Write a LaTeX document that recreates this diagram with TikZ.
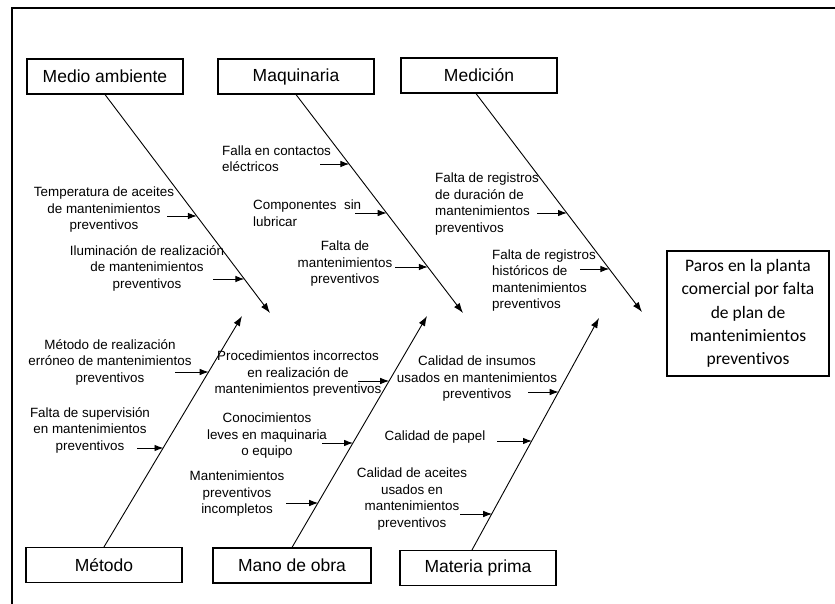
\documentclass[tikz,border=0pt]{standalone}
\usepackage{fontspec}
\setmainfont{Liberation Sans}
\newfontfamily\effectfont[Ligatures={NoCommon,NoContextual}]{Carlito}
\usetikzlibrary{arrows.meta}
\begin{document}
\begin{tikzpicture}[x=1pt,y=-1pt,
  catbox/.style={draw, line width=1.1pt, minimum width=156pt, minimum height=35pt,
    inner sep=0pt, font=\fontsize{17.5}{21}\selectfont},
  cause/.style={align=center, inner sep=0pt, font=\fontsize{13.4}{16.5}\selectfont},
  causeL/.style={cause, align=left, anchor=west},
  bone/.style={line width=0.9pt, -{Latex[length=10pt,width=7pt]}},
  feed/.style={line width=0.9pt, -{Latex[length=9pt,width=6.5pt]}}]
% canvas and frame
\useasboundingbox (0,0) rectangle (835,604);
\draw[line width=1.2pt] (12,604) -- (12,8) -- (835,8);

% category boxes
\node[catbox] (medio) at (105,76.5) {Medio ambiente};
\node[catbox] (maq)   at (296,76.5) {Maquinaria};
\node[catbox] (med)   at (479,75.5) {Medición};
\node[catbox] (met)   at (104,565) {Método};
\node[catbox, minimum width=158pt] (mano) at (292,565.5) {Mano de obra};
\node[catbox] (mat)   at (478,568) {Materia prima};

% effect box
\node[draw, line width=1.1pt, minimum width=162pt, minimum height=125pt, inner sep=0pt,
  align=center, font=\effectfont\fontsize{17.5}{23.3}\selectfont] (efecto) at (748,313.5)
  {Paros en la planta\\comercial por falta\\de plan de\\mantenimientos\\preventivos};

% bone tips
\coordinate (tMedio) at (270,313);
\coordinate (tMaq)   at (463,313);
\coordinate (tMed)   at (642,312);
\coordinate (tMet)   at (242,316);
\coordinate (tMano)  at (427,316);
\coordinate (tMat)   at (599,318);

\draw[bone] (medio.south) -- (tMedio);
\draw[bone] (maq.south) -- (tMaq);
\draw[bone] ([xshift=-3pt]med.south) -- (tMed);
\draw[bone] (met.north) -- (tMet);
\draw[bone] (mano.north) -- (tMano);
\draw[bone] ([xshift=-6pt]mat.north) -- (tMat);

% causes: Medio ambiente
\node[cause] (c1) at (104,210) {Temperatura de aceites\\de mantenimientos\\preventivos};
\node[cause] (c2) at (147,268) {Iluminación de realización\\de mantenimientos\\preventivos};
% causes: Maquinaria
\node[causeL] (c3) at (222,158.5) {Falla en contactos\\eléctricos};
\node[causeL] (c4) at (253,213) {Componentes\ \ sin\\lubricar};
\node[cause] (c5) at (345,264) {Falta de\\mantenimientos\\preventivos};
% causes: Medición
\node[causeL] (c6) at (435,204) {Falta de registros\\de duración de\\mantenimientos\\preventivos};
\node[causeL] (c7) at (492,280.5) {Falta de registros\\históricos de\\mantenimientos\\preventivos};
% causes: Método
\node[cause] (c8) at (110,362) {Método de realización\\erróneo de mantenimientos\\preventivos};
\node[cause] (c9) at (90,430) {Falta de supervisión\\en mantenimientos\\preventivos};
% causes: Mano de obra
\node[cause] (c10) at (298,374) {Procedimientos incorrectos\\en realización de\\mantenimientos preventivos};
\node[cause] (c11) at (267,436) {Conocimientos\\leves en maquinaria\\o equipo};
\node[cause] (c12) at (237,494) {Mantenimientos\\preventivos\\incompletos};
% causes: Materia prima
\node[cause] (c13) at (477,379) {Calidad de insumos\\usados en mantenimientos\\preventivos};
\node[cause] (c14) at (435,437) {Calidad de papel};
\node[cause] (c15) at (412,499) {Calidad de aceites\\usados en\\mantenimientos\\preventivos};

% cause arrows (tail -> point on bone)
\coordinate (a1) at (167,216);   \coordinate (b1) at (196.9,216);
\coordinate (a2) at (213,279);   \coordinate (b2) at (244.4,279);
\coordinate (a3) at (320,164);   \coordinate (b3) at (349.4,164);
\coordinate (a4) at (355,213);   \coordinate (b4) at (386.7,213);
\coordinate (a5) at (395,267);   \coordinate (b5) at (427.9,267);
\coordinate (a6) at (537,213);   \coordinate (b6) at (567.0,213);
\coordinate (a7) at (580,269);   \coordinate (b7) at (609.4,269);
\coordinate (a8) at (175,372);   \coordinate (b8) at (208.7,372);
\coordinate (a9) at (137,448);   \coordinate (b9) at (163.5,448);
\coordinate (a10) at (358,381);  \coordinate (b10) at (389.2,381);
\coordinate (a11) at (322,443);  \coordinate (b11) at (353.1,443);
\coordinate (a12) at (286,503);  \coordinate (b12) at (318.2,503);
\coordinate (a13) at (528,392);  \coordinate (b13) at (558.7,392);
\coordinate (a14) at (497,441);  \coordinate (b14) at (532.0,441);
\coordinate (a15) at (460,514);  \coordinate (b15) at (492.2,514);
\foreach \i in {1,...,15} { \draw[feed] (a\i) -- (b\i); }
\end{tikzpicture}
\end{document}
